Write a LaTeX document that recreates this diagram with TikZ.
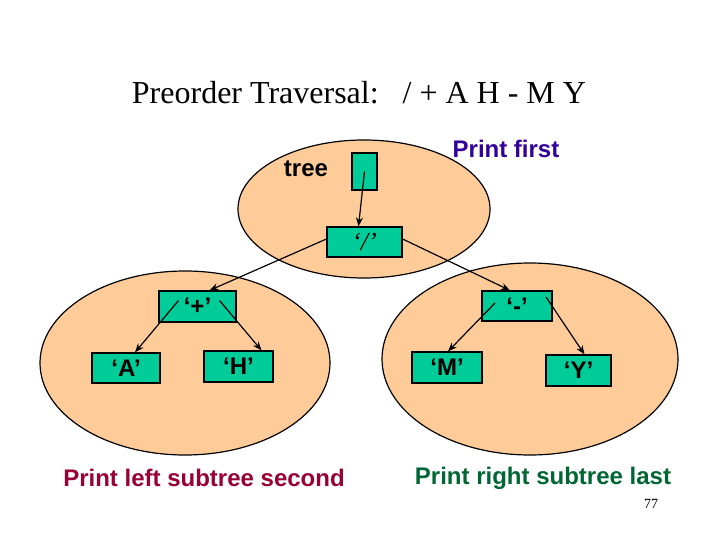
\documentclass[tikz,border=0pt]{standalone}
\usepackage{fontspec}
\setmainfont{Liberation Serif}
\newfontfamily\arialf{Liberation Sans}
\usetikzlibrary{arrows.meta}
\definecolor{peach}{RGB}{255,204,153}
\definecolor{teal2}{RGB}{0,204,153}
\definecolor{pfirst}{RGB}{51,0,153}
\definecolor{pleft}{RGB}{153,0,51}
\definecolor{pright}{RGB}{0,102,51}
\newcommand\cellf{\arialf\bfseries\fontsize{24}{26}\selectfont}
\newcommand\rootf{\rmfamily\itshape\fontsize{26}{28}\selectfont}
\tikzset{
  blob/.style={draw=black, fill=peach, line width=1.2pt},
  cell/.style={draw=black, fill=teal2, line width=1.2pt, inner sep=0pt},
  link/.style={draw=black, line width=1.2pt, -{Stealth[length=9pt,width=7pt]}},
  lbl/.style={font=\arialf\bfseries\fontsize{24}{28}\selectfont, inner sep=0pt}
}
\begin{document}
\begin{tikzpicture}[x=1pt,y=-1pt]
\useasboundingbox (0,0) rectangle (720,540);
% ellipses
\draw[blob] (364,209) ellipse [x radius=126pt, y radius=69pt];
\draw[blob] (185,363) ellipse [x radius=145pt, y radius=92pt];
\draw[blob] (530,359) ellipse [x radius=148pt, y radius=96pt];
% title
\node[inner sep=0pt, font=\fontsize{32}{36}\selectfont] (title) at (359,93) {Preorder Traversal:\ \ \ / + A H - M Y};
% boxes
\node[cell, minimum width=25pt, minimum height=37pt] (ptr) at (364.5,171.5) {};
\node[cell, minimum width=75pt, minimum height=30pt] (root) at (364.5,242) {\rootf ‘/’};
\node[cell, minimum width=77pt, minimum height=31pt] (plus) at (197.5,306.5) {\cellf ‘+’};
\node[cell, minimum width=68pt, minimum height=30pt] (A) at (126,368) {\cellf ‘A’};
\node[cell, minimum width=69pt, minimum height=31pt] (H) at (238.5,366.5) {\cellf ‘H’};
\node[cell, minimum width=70pt, minimum height=30pt] (minus) at (517,306) {\cellf ‘-’};
\node[cell, minimum width=70pt, minimum height=31pt] (M) at (447,367.5) {\cellf ‘M’};
\node[cell, minimum width=65pt, minimum height=31pt] (Y) at (578.5,370.5) {\cellf ‘Y’};
% labels
\node[lbl] (tree) at (306,169) {tree};
\node[lbl, text=pfirst] (pf) at (506,149) {Print first};
\node[lbl, text=pleft] (pl) at (204,478) {Print left subtree second};
\node[lbl, text=pright] (pr) at (543,478) {Print right subtree last};
\node[inner sep=0pt, font=\fontsize{14}{16}\selectfont] (pg) at (651,504) {77};
% connectors
\draw[link] (ptr.center) -- ([xshift=-6pt]root.north);
\draw[link] ([yshift=3pt]root.west) -- ([xshift=12pt]plus.north);
\draw[link] ([yshift=3pt]root.east) -- ([xshift=-7pt]minus.north);
\draw[link] ([xshift=-19pt,yshift=6pt]plus.center) -- ([xshift=9pt]A.north);
\draw[link] ([xshift=22pt,yshift=6pt]plus.center) -- ([xshift=23pt]H.north);
\draw[link] ([xshift=-22pt,yshift=3pt]minus.center) -- ([xshift=1pt]M.north);
\draw[link] ([xshift=29pt,yshift=9pt]minus.center) -- ([xshift=6pt]Y.north);
\end{tikzpicture}
\end{document}
